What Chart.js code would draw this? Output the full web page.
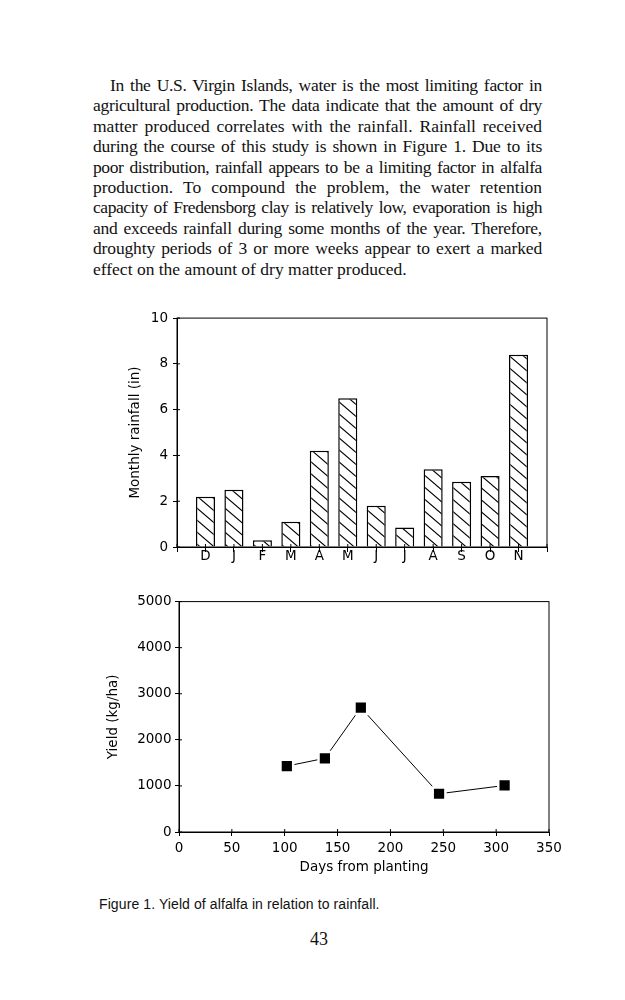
<!DOCTYPE html>
<html>
<head>
<meta charset="utf-8">
<script src="https://cdn.jsdelivr.net/npm/chart.js@4.4.1/dist/chart.umd.min.js"></script>
<style>
  body { margin: 0; background: #fff; width: 625px; height: 1000px; position: relative; overflow: hidden; color: #111; }
  #para { position: absolute; left: 93px; top: 75px; width: 449px; font-family: "Liberation Serif", serif; font-size: 17.5px; line-height: 20.4px; }
  #para div { white-space: nowrap; }
  #para div.first { padding-left: 17px; }
  canvas { position: absolute; }
  #rain { left: 100px; top: 305px; }
  #yield { left: 90px; top: 590px; }
  #caption { position: absolute; left: 99px; top: 896px; font-family: "Liberation Sans", sans-serif; font-size: 14px; letter-spacing: 0.1px; }
  #pageno { position: absolute; left: 310px; top: 929px; font-family: "Liberation Serif", serif; font-size: 18px; }
</style>
</head>
<body>
<div id="para">
  <div class="first"><span>In the U.S. Virgin Islands, water is the most limiting factor in</span></div>
  <div><span>agricultural production. The data indicate that the amount of dry</span></div>
  <div><span>matter produced correlates with the rainfall. Rainfall received</span></div>
  <div><span>during the course of this study is shown in Figure 1. Due to its</span></div>
  <div><span>poor distribution, rainfall appears to be a limiting factor in alfalfa</span></div>
  <div><span>production. To compound the problem, the water retention</span></div>
  <div><span>capacity of Fredensborg clay is relatively low, evaporation is high</span></div>
  <div><span>and exceeds rainfall during some months of the year. Therefore,</span></div>
  <div><span>droughty periods of 3 or more weeks appear to exert a marked</span></div>
  <div class="last"><span>effect on the amount of dry matter produced.</span></div>
</div>

<canvas id="rain" width="460" height="270"></canvas>
<canvas id="yield" width="480" height="300"></canvas>

<div id="caption">Figure 1. Yield of alfalfa in relation to rainfall.</div>
<div id="pageno">43</div>

<script>
const months = ['D', 'J', 'F', 'M', 'A', 'M', 'J', 'J', 'A', 'S', 'O', 'N'];
const rainfall = [2.2, 2.5, 0.3, 1.1, 4.2, 6.5, 1.8, 0.85, 3.4, 2.85, 3.1, 8.4];
const rainTicks = [0, 2, 4, 6, 8, 10];

const days = [102, 138, 172, 246, 308];
const yieldKg = [1430, 1600, 2700, 830, 1010];
const dayTicks = [0, 50, 100, 150, 200, 250, 300, 350];
const yieldTicks = [0, 1000, 2000, 3000, 4000, 5000];

// justify each printed line to the column width, squeezing letters where a line is too long
document.querySelectorAll('#para div').forEach((line) => {
    if (line.classList.contains('last')) return;
    const span = line.firstElementChild;
    const text = span.textContent;
    const avail = 449 - (line.classList.contains('first') ? 17 : 0);
    let w = span.getBoundingClientRect().width;
    const spaces = (text.match(/ /g) || []).length;
    if (w > avail - spaces * 2) {
        span.style.letterSpacing = ((avail - spaces * 2 - w) / text.length) + 'px';
        w = span.getBoundingClientRect().width;
    }
    span.style.wordSpacing = ((avail - w) / spaces) + 'px';
});

Chart.defaults.font.family = '"DejaVu Sans", sans-serif';
Chart.defaults.font.size = 13.5;
Chart.defaults.color = '#000';

function hatch() {
    const c = document.createElement('canvas');
    c.width = 14;
    c.height = 12;
    const g = c.getContext('2d');
    g.fillStyle = '#fff';
    g.fillRect(0, 0, 14, 12);
    g.strokeStyle = '#000';
    g.lineWidth = 1.1;
    g.beginPath();
    g.moveTo(-14, -12); g.lineTo(28, 24);
    g.moveTo(-14, 0); g.lineTo(14, 24);
    g.moveTo(0, -12); g.lineTo(28, 12);
    g.stroke();
    return g.createPattern(c, 'repeat');
}

// frame round the plot and the short inner half of each tick mark
const frameTicks = {
    id: 'frameTicks',
    afterDraw(chart) {
        const { ctx, chartArea: a } = chart;
        const x = chart.scales.x;
        const y = chart.scales.y;
        ctx.save();
        ctx.strokeStyle = '#000';
        ctx.lineWidth = 1;
        ctx.strokeRect(a.left, a.top, a.right - a.left, a.bottom - a.top);
        ctx.beginPath();
        x.ticks.forEach((t, i) => {
            const px = x.getPixelForTick(i);
            ctx.moveTo(px, a.bottom - 3);
            ctx.lineTo(px, a.bottom);
        });
        y.ticks.forEach((t, i) => {
            const py = y.getPixelForTick(i);
            ctx.moveTo(a.left, py);
            ctx.lineTo(a.left + 3, py);
        });
        ctx.stroke();
        ctx.restore();
    },
};

const tickGrid = { drawOnChartArea: false, color: '#000', tickLength: 4, offset: false };
const plain = (v) => String(v);

new Chart(document.getElementById('rain'), {
    type: 'bar',
    data: {
        labels: ['', ...months, ''],
        datasets: [
            {
                data: [null, ...rainfall, null],
                backgroundColor: hatch(),
                borderColor: '#000',
                borderWidth: 1.5,
                categoryPercentage: 1,
                barPercentage: 0.67,
            },
        ],
    },
    options: {
        responsive: false,
        animation: false,
        layout: { padding: { top: 10, right: 13 } },
        plugins: { legend: { display: false }, tooltip: { enabled: false } },
        scales: {
            x: {
                offset: false,
                grid: { ...tickGrid, tickLength: 5 },
                border: { color: '#000' },
                ticks: { padding: -4, maxRotation: 0, autoSkip: false },
                afterFit: (s) => { s.height = 28; },
            },
            y: {
                min: 0,
                max: 10,
                afterBuildTicks: (s) => { s.ticks = rainTicks.map((v) => ({ value: v })); },
                grid: tickGrid,
                border: { color: '#000' },
                ticks: { padding: 5, callback: plain },
                title: { display: true, text: 'Monthly rainfall (in)', padding: { top: 27 } },
                afterFit: (s) => { s.width = 77; },
            },
        },
    },
    plugins: [frameTicks],
});

new Chart(document.getElementById('yield'), {
    type: 'line',
    data: {
        datasets: [
            {
                data: days.map((d, i) => ({ x: d, y: yieldKg[i] })),
                borderColor: '#000',
                borderWidth: 1,
                pointStyle: 'rect',
                pointRadius: 9,
                pointBackgroundColor: '#000',
                pointBorderColor: '#fff',
                pointBorderWidth: 2.5,
            },
        ],
    },
    options: {
        responsive: false,
        animation: false,
        layout: { padding: { top: 10, right: 21 } },
        plugins: { legend: { display: false }, tooltip: { enabled: false } },
        scales: {
            x: {
                type: 'linear',
                min: 0,
                max: 350,
                afterBuildTicks: (s) => { s.ticks = dayTicks.map((v) => ({ value: v })); },
                grid: tickGrid,
                border: { color: '#000' },
                ticks: { padding: 4, maxRotation: 0, callback: plain },
                title: { display: true, text: 'Days from planting', padding: { bottom: 14 } },
                afterFit: (s) => { s.height = 58; },
            },
            y: {
                min: 0,
                max: 5000,
                afterBuildTicks: (s) => { s.ticks = yieldTicks.map((v) => ({ value: v })); },
                grid: tickGrid,
                border: { color: '#000' },
                ticks: { padding: 3.5, callback: plain },
                title: { display: true, text: 'Yield (kg/ha)', padding: { top: 15 } },
                afterFit: (s) => { s.width = 89; },
            },
        },
    },
    plugins: [frameTicks],
});
</script>
</body>
</html>
